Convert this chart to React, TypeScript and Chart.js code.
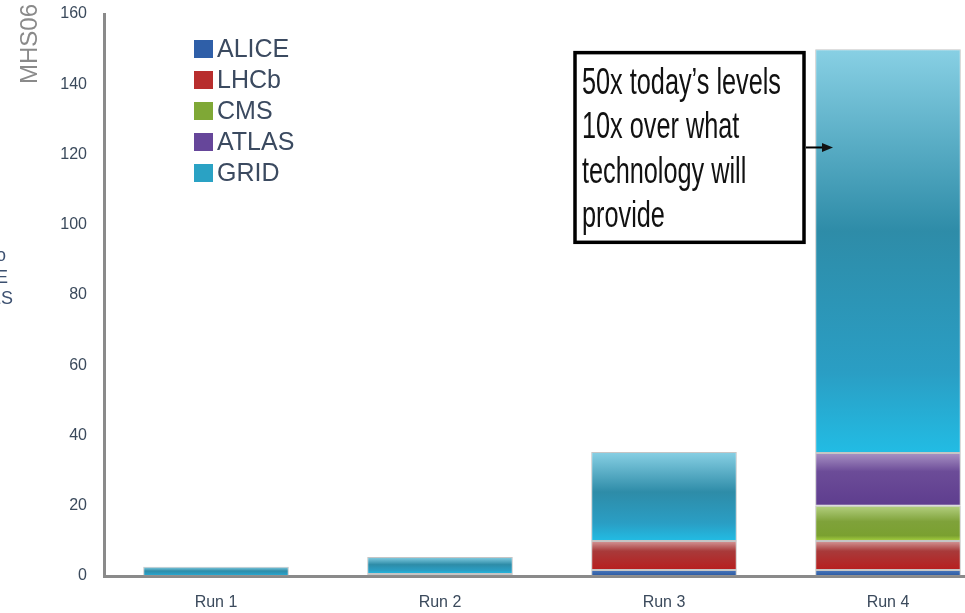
import React, { useEffect, useRef } from "react";
import { Chart, registerables } from "chart.js";

Chart.register(...registerables);

const categories = ["Run 1", "Run 2", "Run 3", "Run 4"];
const seriesNames = ["ALICE", "LHCb", "CMS", "ATLAS", "GRID"];
const alice = [0, 0.2, 1.7, 1.7];
const lhcb = [0, 0.4, 8.3, 8.3];
const cms = [0, 0, 0, 10];
const atlas = [0, 0, 0, 15];
const grid = [2.6, 4.8, 25.3, 115];
const yMax = 160;
const yStep = 20;
const yTitle = "MHS06";
const annotationLines = ["50x today\u2019s levels", "10x over what", "technology will", "provide"];

const legendColors = ["#2f5fa8", "#b82e2e", "#7fa836", "#66469a", "#2aa2c4"];
const gradientStops: [number, string][][] = [
  [[0, "#4a78bc"], [1, "#2a58a0"]],
  [[0, "#d49a9a"], [0.35, "#a83a3a"], [1, "#b81e1e"]],
  [[0, "#b4d080"], [0.45, "#7fa23a"], [0.85, "#7aa030"], [1, "#a6d040"]],
  [[0, "#a892c4"], [0.35, "#6c4c98"], [1, "#5e3d8e"]],
  [[0, "#88d0e4"], [0.45, "#2e8ca8"], [0.8, "#2a9ec4"], [1, "#22bce4"]],
];

function makeBg(idx: number) {
  const solid = legendColors[idx];
  return (ctx: any) => {
    const chart = ctx.chart;
    const ys = chart.scales && chart.scales.y;
    if (ctx.type !== "data" || !ys || !chart.chartArea) return solid;
    const i = ctx.dataIndex;
    const di = ctx.datasetIndex;
    let start = 0;
    for (let k = 0; k < di; k++) start += Number(chart.data.datasets[k].data[i]) || 0;
    const v = Number(ctx.raw) || 0;
    const top = ys.getPixelForValue(start + v);
    const bot = ys.getPixelForValue(start);
    if (!(bot - top > 0.5)) return solid;
    const g = chart.ctx.createLinearGradient(0, top, 0, bot);
    gradientStops[idx].forEach(([o, c]) => g.addColorStop(o, c));
    return g;
  };
}

const decorPlugin = {
  id: "decor",
  afterDraw(chart: any) {
    const ctx = chart.ctx;
    const ys = chart.scales.y;
    const xs = chart.scales.x;
    ctx.save();
    // y title
    ctx.save();
    ctx.translate(30, 44);
    ctx.rotate(-Math.PI / 2);
    ctx.fillStyle = "#8a8a8a";
    ctx.font = '24px "Liberation Sans", Arial, sans-serif';
    ctx.textAlign = "center";
    ctx.textBaseline = "middle";
    ctx.fillText(yTitle, 0, 0);
    ctx.restore();

    // cut-off fragments at left edge
    ctx.fillStyle = "#3c5070";
    ctx.font = '18px "Liberation Sans", Arial, sans-serif';
    ctx.textAlign = "right";
    ctx.textBaseline = "middle";
    ctx.fillText("o", 6, 256);
    ctx.fillText("E", 8, 278);
    ctx.fillText("ES", 13, 299);

    // legend
    ctx.font = '25px "Liberation Sans", Arial, sans-serif';
    ctx.textAlign = "left";
    ctx.textBaseline = "middle";
    seriesNames.forEach((name, i) => {
      const cy = 49 + i * 31;
      ctx.fillStyle = legendColors[i];
      ctx.fillRect(194, cy - 9, 19, 18);
      ctx.fillStyle = "#3b4a60";
      ctx.fillText(name, 217, cy + 1);
    });

    // annotation box
    const boxTopV = 149;
    const boxBotV = 95;
    const arrowV = 122;
    const bx0 = 575;
    const bx1 = 804;
    const by0 = ys.getPixelForValue(boxTopV);
    const by1 = ys.getPixelForValue(boxBotV);
    ctx.fillStyle = "#ffffff";
    ctx.fillRect(bx0, by0, bx1 - bx0, by1 - by0);
    ctx.lineWidth = 3.5;
    ctx.strokeStyle = "#000000";
    ctx.strokeRect(bx0, by0, bx1 - bx0, by1 - by0);

    ctx.fillStyle = "#111111";
    ctx.font = '36px "Liberation Sans Narrow", "Liberation Sans", sans-serif';
    ctx.textBaseline = "alphabetic";
    const w0 = ctx.measureText(annotationLines[0]).width;
    const sx = 199 / w0;
    annotationLines.forEach((line, i) => {
      ctx.save();
      ctx.translate(582, by0 + 41 + i * 44.5);
      ctx.scale(sx, 1);
      ctx.fillText(line, 0, 0);
      ctx.restore();
    });

    // arrow
    const ay = ys.getPixelForValue(arrowV);
    const barX = xs.getPixelForValue(3);
    const ax1 = barX - 55;
    ctx.lineWidth = 2;
    ctx.beginPath();
    ctx.moveTo(bx1 + 2, ay);
    ctx.lineTo(ax1 - 8, ay);
    ctx.stroke();
    ctx.beginPath();
    ctx.moveTo(ax1, ay);
    ctx.lineTo(ax1 - 11, ay - 4.5);
    ctx.lineTo(ax1 - 11, ay + 4.5);
    ctx.closePath();
    ctx.fill();
    ctx.restore();
  },
};

export default function App() {
  const ref = useRef<HTMLCanvasElement>(null);
  useEffect(() => {
    document.documentElement.style.overflow = "hidden";
    document.body.style.margin = "0";
    const data = [alice, lhcb, cms, atlas, grid];
    const chart = new Chart(ref.current as HTMLCanvasElement, {
      type: "bar",
      data: {
        labels: categories,
        datasets: seriesNames.map((name, i) => ({
          label: name,
          data: data[i],
          backgroundColor: makeBg(i),
          borderColor: "rgba(150,150,150,0.55)",
          borderWidth: 1,
          borderSkipped: false,
          barPercentage: 0.65,
          categoryPercentage: 1,
        })),
      },
      options: {
        animation: false,
        responsive: true,
        maintainAspectRatio: false,
        layout: { padding: { top: 14, right: 10, left: 0, bottom: 0 } },
        plugins: { legend: { display: false }, tooltip: { enabled: false } },
        scales: {
          x: {
            stacked: true,
            grid: { display: false, drawTicks: false },
            border: { display: true, color: "#8a8a8a", width: 3 },
            ticks: {
              color: "#3b4a5c",
              padding: 17,
              font: { family: '"Liberation Sans", Arial, sans-serif', size: 16 },
            },
            afterFit: (s: any) => {
              s.height = 37;
              s.paddingLeft = 0;
              s.paddingRight = 0;
            },
          },
          y: {
            stacked: true,
            min: 0,
            max: yMax,
            grid: { display: false, drawTicks: false },
            border: { display: true, color: "#8a8a8a", width: 3 },
            ticks: {
              stepSize: yStep,
              color: "#3b4a5c",
              padding: 17,
              font: { family: '"Liberation Sans", Arial, sans-serif', size: 16 },
            },
            afterFit: (s: any) => {
              s.width = 104;
              s.paddingTop = 0;
              s.paddingBottom = 0;
            },
          },
        },
      },
      plugins: [decorPlugin],
    });
    return () => chart.destroy();
  }, []);
  return (
    <div style={{ position: "fixed", left: 0, top: 0, width: 1010, height: 613, background: "#fff" }}>
      <canvas ref={ref} />
    </div>
  );
}
